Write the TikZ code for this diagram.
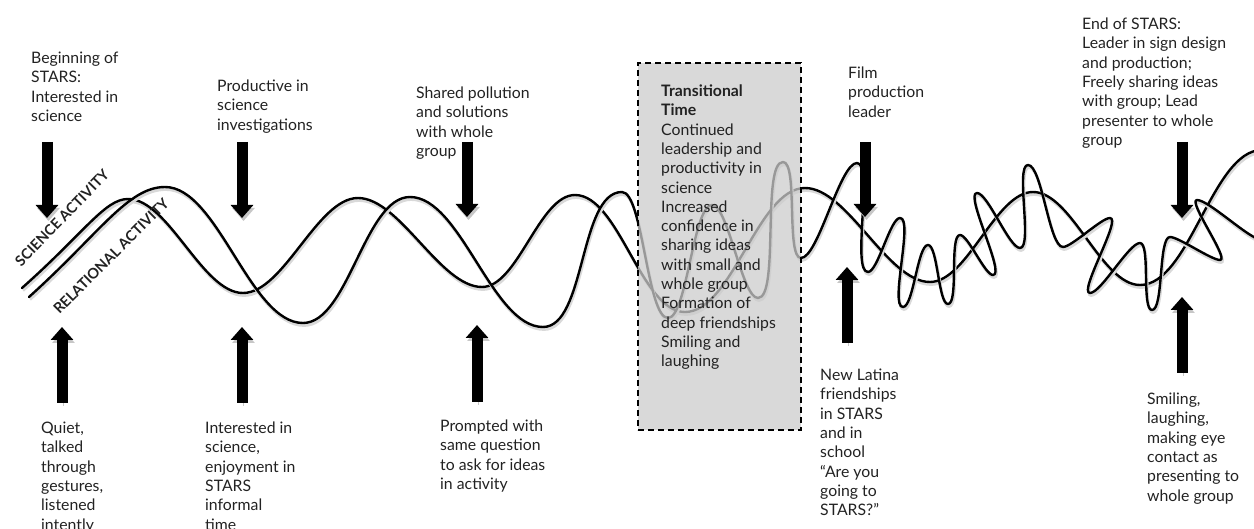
\documentclass[tikz,border=0pt]{standalone}
\usepackage{fontspec}
\setmainfont{Lato}
\usetikzlibrary{arrows.meta}
\definecolor{txt}{HTML}{222222}
\definecolor{boxfill}{gray}{0.8}
\begin{document}
\begin{tikzpicture}[x=1pt,y=-1pt,
  lbl/.style={anchor=north west,inner sep=0pt,align=left,text=txt,font=\fontsize{15.8}{19.3}\selectfont},
  axislbl/.style={inner sep=0pt,text=txt,font=\fontsize{14.5}{16}\selectfont\bfseries},
  wave/.style={line width=2.4pt,black,line cap=round,line join=round,
    preaction={draw=black!15,line width=2.8pt,transform canvas={shift={(1pt,-2.5pt)}}}},
  sw/.style={out=0,in=180,looseness=0.7},
  fw/.style={out=0,in=180,looseness=0.4},
  bigarrow/.style={line width=11pt,-{Triangle[width=22pt,length=13pt]},black,
    preaction={draw=black!22,transform canvas={shift={(1.5pt,-3pt)}}}},
  tboxstyle/.style={draw=black,line width=1.8pt,dash pattern=on 6pt off 4pt,fill=boxfill,fill opacity=0.75,
    inner sep=0pt,outer sep=0pt,anchor=north west}
]
\useasboundingbox (0,0) rectangle (1254,529);

% --- waves ---
\draw[wave] (22,288) .. controls (85,232) and (105,199) .. (128,199)
  to[sw] (243,293) to[sw] (358,198) to[sw] (482,287) to[sw] (575,195)
  to[sw] (685,312) to[sw] (805,188) to[sw] (930,282) to[sw] (1033,192)
  to[sw] (1140,285) to[sw] (1262,150);

\draw[wave] (29,297) .. controls (100,233) and (128,187) .. (165,187)
  to[sw] (303,323) to[sw] (410,197) to[sw] (543,327) to[sw] (622,192)
  to[fw] (668,318) to[fw] (712,205) to[fw] (758,298) to[fw] (783,162)
  to[fw] (801,258) to[fw] (857,163) to[fw] (868,272) to[fw] (900,218)
  to[fw] (903,307) to[fw] (928,245) to[fw] (948,304) to[fw] (960,235)
  to[fw] (993,275) to[fw] (977,193) to[fw] (1020,248) to[fw] (1028,165)
  to[fw] (1063,247) to[fw] (1110,218) to[fw] (1090,293) to[fw] (1140,243)
  to[fw] (1152,310) to[fw] (1170,237) to[fw] (1220,260) to[fw] (1197,200)
  to[fw] (1262,240);

% --- transitional box ---
\node[tboxstyle,minimum width=163pt,minimum height=367pt] (tbox) at (638,63) {};
\node[lbl] (ttext) at (661,82.8) {\strut\textbf{Transitional}\\\textbf{Time}\\Continued\\leadership and\\productivity in\\science\\Increased\\confidence in\\sharing ideas\\with small and\\whole group\\Formation of\\deep friendships\\Smiling and\\laughing};

% --- axis labels ---
\node[axislbl,rotate=46] (sci) at (62,218) {SCIENCE ACTIVITY};
\node[axislbl,rotate=45] (rel) at (111,256) {RELATIONAL ACTIVITY};

% --- arrows ---
\coordinate (d1s) at (47,142);   \coordinate (d1e) at (47,218);
\coordinate (d2s) at (242,142);  \coordinate (d2e) at (242,218);
\coordinate (d3s) at (467,142);  \coordinate (d3e) at (467,217);
\coordinate (d4s) at (865,142);  \coordinate (d4e) at (865,217);
\coordinate (d5s) at (1182,142); \coordinate (d5e) at (1182,218);
\coordinate (u1s) at (62,403);   \coordinate (u1e) at (62,327);
\coordinate (u2s) at (242,403);  \coordinate (u2e) at (242,327);
\coordinate (u3s) at (477,402);  \coordinate (u3e) at (477,325);
\coordinate (u4s) at (847,343);  \coordinate (u4e) at (847,267);
\coordinate (u5s) at (1182,373); \coordinate (u5e) at (1182,297);
\foreach \a in {d1,d2,d3,d4,d5,u1,u2,u3,u4,u5}{
  \draw[bigarrow] (\a s) -- (\a e);
}

% --- top labels ---
\node[lbl] (t1) at (31,49.8) {\strut Beginning of\\STARS:\\Interested in\\science};
\node[lbl] (t2) at (217,77.8) {\strut Productive in\\science\\investigations};
\node[lbl] (t3) at (416,84.8) {\strut Shared pollution\\and solutions\\with whole\\group};
\node[lbl] (t4) at (848,64.8) {\strut Film\\production\\leader};
\node[lbl] (t5) at (1082,15.8) {\strut End of STARS:\\Leader in sign design\\and production;\\Freely sharing ideas\\with group; Lead\\presenter to whole\\group};

% --- bottom labels ---
\node[lbl] (b1) at (41,419.8) {\strut Quiet,\\talked\\through\\gestures,\\listened\\intently};
\node[lbl] (b2) at (205,419.8) {\strut Interested in\\science,\\enjoyment in\\STARS\\informal\\time};
\node[lbl] (b3) at (440,417.8) {\strut Prompted with\\same question\\to ask for ideas\\in activity};
\node[lbl] (b4) at (820,366.8) {\strut New Latina\\friendships\\in STARS\\and in\\school\\“Are you\\going to\\STARS?”};
\node[lbl] (b5) at (1147,390.8) {\strut Smiling,\\laughing,\\making eye\\contact as\\presenting to\\whole group};
\end{tikzpicture}
\end{document}
